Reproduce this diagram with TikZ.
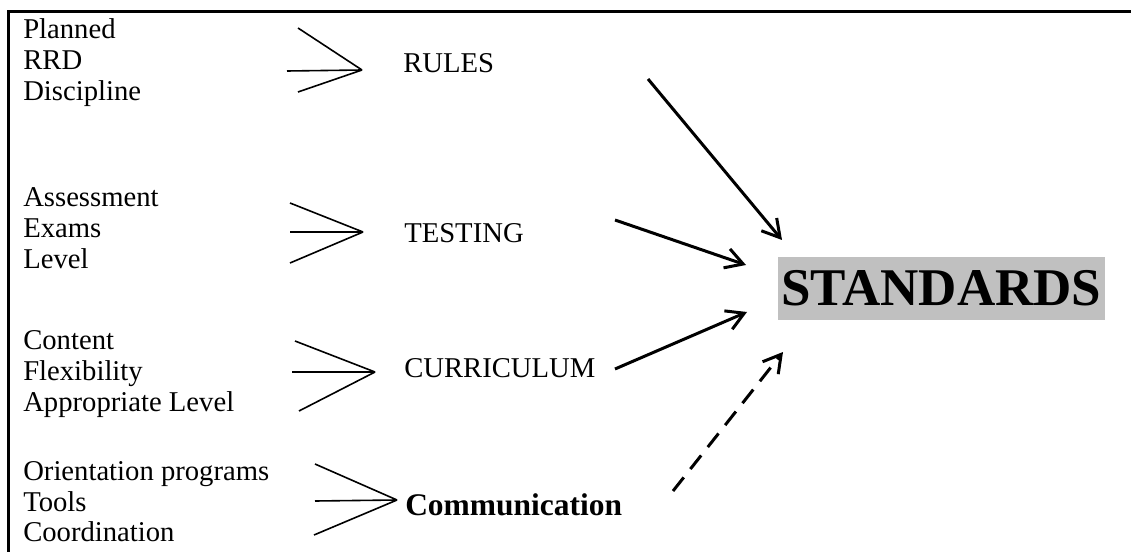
\documentclass[tikz,border=0pt]{standalone}
\usepackage{fontspec}
\setmainfont{Liberation Serif}
\usetikzlibrary{arrows.meta}
\definecolor{boxgray}{RGB}{192,192,192}
\begin{document}
\begin{tikzpicture}[x=0.75pt,y=-0.75pt,
  item/.style={anchor=base west,inner sep=0pt,font=\fontsize{21.5}{25}\selectfont},
  topic/.style={item},
  frame/.style={line width=1.9pt},
  fan/.style={line width=1.2pt},
  feed/.style={line width=2.25pt,-{Straight Barb[length=13pt,width=15pt]}},
  weakfeed/.style={feed,dash pattern=on 13pt off 8pt}]
\useasboundingbox (0,0) rectangle (1131,552);

% page frame: top and left rules only
\draw[frame] (8.7,552) -- (8.7,11.7) -- (1131,11.7);

% group 1
\node[item] (planned) at (23,39) {Planned};
\node[item] (rrd) at (23,70) {RRD};
\node[item] (discipline) at (23,101) {Discipline};
\node[topic] (rules) at (403,73) {RULES};
\coordinate (t1) at (362,70);
\draw[fan] (298,28) -- (t1) (287,71) -- (t1) (298,92) -- (t1);

% group 2
\node[item] (assessment) at (23,207) {Assessment};
\node[item] (exams) at (23,238) {Exams};
\node[item] (level) at (23,269) {Level};
\node[topic] (testing) at (404,243) {TESTING};
\coordinate (t2) at (363,232);
\draw[fan] (290,203) -- (t2) (290,232) -- (t2) (290,263) -- (t2);

% group 3
\node[item] (content) at (23,349) {Content};
\node[item] (flex) at (23,380) {Flexibility};
\node[item] (applevel) at (23,411) {Appropriate Level};
\node[topic] (curr) at (404,377) {CURRICULUM};
\coordinate (t3) at (375,372);
\draw[fan] (295,341) -- (t3) (292,372) -- (t3) (299,411) -- (t3);

% group 4
\node[item] (orient) at (23,480) {Orientation programs};
\node[item] (tools) at (23,511) {Tools};
\node[item] (coord) at (23,541) {Coordination};
\node[topic,font=\bfseries\fontsize{23.6}{27}\selectfont] (comm) at (405,515) {Communication};
\coordinate (t4) at (397,500);
\draw[fan] (315,464) -- (t4) (315,501) -- (t4) (314,535) -- (t4);

% target
\node[fill=boxgray,minimum width=245.25pt,minimum height=47.25pt,inner sep=0pt,
      font=\bfseries\fontsize{39.75}{40}\selectfont] (std) at (941.5,288.5) {STANDARDS};

% arrows into the target
\coordinate (a1) at (648,79);  \coordinate (b1) at (782,240);
\coordinate (a2) at (615,220); \coordinate (b2) at (746,265);
\coordinate (a3) at (615,369); \coordinate (b3) at (747,312);
\coordinate (a4) at (673,491); \coordinate (b4) at (783,352);
\draw[feed] (a1) -- (b1);
\draw[feed] (a2) -- (b2);
\draw[feed] (a3) -- (b3);
\draw[weakfeed] (a4) -- (b4);
\end{tikzpicture}
\end{document}
